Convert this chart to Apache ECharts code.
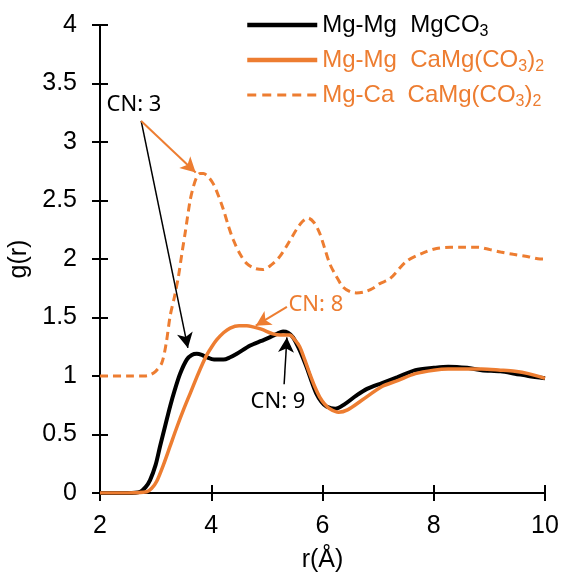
<!DOCTYPE html>
<html>
<head>
<meta charset="utf-8">
<script src="https://cdn.jsdelivr.net/npm/echarts@6/dist/echarts.min.js"></script>
<style>html,body{margin:0;padding:0;background:#fff}#c{width:564px;height:577px}</style>
</head>
<body>
<div id="c"></div>
<script>
// ---- data ----
const xTicks = [2, 4, 6, 8, 10];
const yTicks = [0, 0.5, 1, 1.5, 2, 2.5, 3, 3.5, 4];

const seriesNames = ['Mg-Mg  MgCO3', 'Mg-Mg  CaMg(CO3)2', 'Mg-Ca  CaMg(CO3)2'];

const rMgCO3 = [2, 2.5, 2.72, 2.82, 2.9, 3.0, 3.08, 3.17, 3.26, 3.35, 3.44, 3.56, 3.65, 3.74, 3.83, 3.92, 4.05, 4.22, 4.34, 4.46, 4.7, 4.9, 5.05, 5.18, 5.29, 5.38, 5.47, 5.59, 5.71, 5.8, 5.89, 5.98, 6.07, 6.23, 6.4, 6.6, 6.8, 7.07, 7.35, 7.67, 8.0, 8.26, 8.6, 8.86, 9.2, 9.46, 9.7, 10];
const gMgCO3 = [0, 0, 0.01, 0.05, 0.11, 0.24, 0.40, 0.57, 0.74, 0.89, 1.02, 1.14, 1.18, 1.19, 1.18, 1.16, 1.14, 1.14, 1.16, 1.19, 1.26, 1.30, 1.33, 1.36, 1.38, 1.37, 1.33, 1.22, 1.08, 0.96, 0.85, 0.78, 0.74, 0.72, 0.76, 0.83, 0.89, 0.94, 0.99, 1.05, 1.07, 1.08, 1.07, 1.05, 1.04, 1.02, 1.0, 0.98];

const rMgMgDol = [2, 2.5, 2.84, 2.93, 3.02, 3.14, 3.26, 3.38, 3.5, 3.62, 3.74, 3.83, 3.92, 4.01, 4.10, 4.22, 4.34, 4.5, 4.64, 4.75, 4.9, 5.11, 5.25, 5.41, 5.5, 5.59, 5.68, 5.77, 5.86, 5.95, 6.04, 6.13, 6.29, 6.45, 6.7, 7.07, 7.35, 7.67, 8.0, 8.26, 8.6, 8.86, 9.2, 9.46, 9.7, 10];
const gMgMgDol = [0, 0, 0.01, 0.04, 0.10, 0.24, 0.40, 0.56, 0.71, 0.85, 0.99, 1.09, 1.18, 1.25, 1.31, 1.37, 1.41, 1.43, 1.43, 1.42, 1.40, 1.36, 1.35, 1.35, 1.31, 1.25, 1.14, 1.02, 0.91, 0.82, 0.76, 0.72, 0.69, 0.71, 0.79, 0.91, 0.96, 1.02, 1.05, 1.06, 1.06, 1.06, 1.05, 1.04, 1.02, 0.98];

const rMgCaDol = [2, 2.5, 2.8, 2.9, 3.0, 3.11, 3.19, 3.26, 3.34, 3.41, 3.47, 3.53, 3.62, 3.68, 3.74, 3.8, 3.86, 3.95, 4.04, 4.13, 4.22, 4.31, 4.40, 4.52, 4.64, 4.78, 4.93, 5.08, 5.23, 5.38, 5.53, 5.64, 5.74, 5.85, 5.95, 6.04, 6.13, 6.25, 6.37, 6.5, 6.61, 6.76, 6.91, 7.03, 7.21, 7.51, 7.8, 8.05, 8.3, 8.53, 8.8, 9.01, 9.2, 9.43, 9.7, 9.91, 10];
const gMgCaDol = [1, 1, 1.0, 1.01, 1.04, 1.11, 1.28, 1.51, 1.68, 1.85, 2.04, 2.22, 2.50, 2.62, 2.70, 2.73, 2.73, 2.70, 2.64, 2.54, 2.42, 2.28, 2.16, 2.04, 1.96, 1.92, 1.91, 1.95, 2.02, 2.13, 2.25, 2.32, 2.35, 2.31, 2.22, 2.09, 1.96, 1.85, 1.76, 1.72, 1.71, 1.72, 1.75, 1.79, 1.83, 1.98, 2.05, 2.09, 2.10, 2.10, 2.10, 2.08, 2.06, 2.04, 2.02, 2.00, 2.00];

// annotations (data coordinates)
const cnLabels = ['CN: 3', 'CN: 8', 'CN: 9'];
const cnPos = [[2.61, 3.32], [5.88, 1.61], [5.20, 0.78]];
const arrowCN3toMgCa = [[2.74, 3.18], [3.72, 2.74]];
const arrowCN3toMgCO3 = [[2.74, 3.18], [3.58, 1.24]];
const arrowCN8 = [[5.36, 1.59], [4.80, 1.43]];
const arrowCN9 = [[5.31, 0.93], [5.36, 1.33]];

// ---- chart ----
const BLACK = '#000000';
const ORANGE = '#ED7D31';
const FONT = '"Liberation Sans", Arial, sans-serif';
const CNFONT = '"Noto Sans", "Open Sans", sans-serif';

function pairs(xs, ys) { return xs.map((x, i) => [x, ys[i]]); }
function arrowData(a) { return [[{ coord: a[0] }, { coord: a[1] }]]; }

const legendRich = (color) => ({
  m: { fontSize: 24, color: color, fontFamily: FONT, lineHeight: 28 },
  s: { fontSize: 16, color: color, fontFamily: FONT, lineHeight: 28, padding: [14, 0, 0, 0] }
});

const legendText = {
  'Mg-Mg  MgCO3': '{m|Mg-Mg  MgCO}{s|3}',
  'Mg-Mg  CaMg(CO3)2': '{m|Mg-Mg  CaMg(CO}{s|3}{m|)}{s|2}',
  'Mg-Ca  CaMg(CO3)2': '{m|Mg-Ca  CaMg(CO}{s|3}{m|)}{s|2}'
};

const axisCommon = {
  type: 'value',
  axisLine: { show: true, lineStyle: { color: BLACK, width: 2 } },
  splitLine: { show: false }
};

const chart = echarts.init(document.getElementById('c'), null, { renderer: 'canvas' });
chart.setOption({
  animation: false,
  backgroundColor: '#ffffff',
  grid: { left: 100, right: 19, top: 25, bottom: 84, containLabel: false, outerBoundsMode: 'none' },
  legend: {
    orient: 'vertical',
    left: 240,
    top: 5,
    itemWidth: 70,
    itemHeight: 14,
    itemGap: 5,
    selectedMode: false,
    itemStyle: { opacity: 0, color: 'rgba(0,0,0,0)', borderWidth: 0 },
    formatter: (n) => legendText[n],
    data: [
      { name: seriesNames[0], lineStyle: { width: 4.5, color: BLACK }, textStyle: { color: BLACK, rich: legendRich(BLACK) } },
      { name: seriesNames[1], lineStyle: { width: 4.5, color: ORANGE }, textStyle: { color: ORANGE, rich: legendRich(ORANGE) } },
      { name: seriesNames[2], lineStyle: { width: 3, color: ORANGE, type: [9, 6] }, textStyle: { color: ORANGE, rich: legendRich(ORANGE) } }
    ]
  },
  xAxis: [
    Object.assign({}, axisCommon, {
      min: xTicks[0], max: xTicks[xTicks.length - 1], interval: 2,
      position: 'bottom',
      name: 'r(Å)', nameLocation: 'middle', nameGap: 55,
      nameTextStyle: { color: BLACK, fontSize: 25, fontFamily: FONT },
      axisTick: { show: true, inside: false, length: 8, lineStyle: { color: BLACK, width: 2 } },
      axisLabel: { color: BLACK, fontSize: 25, fontFamily: FONT, margin: 21 }
    }),
    Object.assign({}, axisCommon, {
      min: xTicks[0], max: xTicks[xTicks.length - 1], interval: 2,
      position: 'bottom',
      axisTick: { show: true, inside: true, length: 8, lineStyle: { color: BLACK, width: 2 } },
      axisLabel: { show: false }
    })
  ],
  yAxis: [
    Object.assign({}, axisCommon, {
      min: yTicks[0], max: yTicks[yTicks.length - 1], interval: 0.5,
      position: 'left',
      name: 'g(r)', nameLocation: 'middle', nameGap: 67, nameRotate: 90,
      nameTextStyle: { color: BLACK, fontSize: 25, fontFamily: FONT },
      axisTick: { show: true, inside: false, length: 8, lineStyle: { color: BLACK, width: 2 } },
      axisLabel: { color: BLACK, fontSize: 25, fontFamily: FONT, margin: 23 }
    }),
    Object.assign({}, axisCommon, {
      min: yTicks[0], max: yTicks[yTicks.length - 1], interval: 0.5,
      position: 'left',
      axisTick: { show: true, inside: true, length: 8, lineStyle: { color: BLACK, width: 2 } },
      axisLabel: { show: false }
    })
  ],
  series: [
    {
      name: seriesNames[0], type: 'line', xAxisIndex: 0, yAxisIndex: 0,
      data: pairs(rMgCO3, gMgCO3), smooth: 0.3, showSymbol: false, symbol: 'none',
      lineStyle: { color: BLACK, width: 4 }, itemStyle: { color: BLACK }, z: 3,
      markLine: {
        silent: true, symbol: ['none', 'arrow'], symbolSize: [12, 15],
        label: { show: false },
        lineStyle: { color: BLACK, width: 1.5, type: 'solid' },
        data: [].concat(arrowData(arrowCN3toMgCO3), arrowData(arrowCN9))
      },
      markPoint: {
        silent: true, symbol: 'rect', symbolSize: 1, itemStyle: { color: 'rgba(0,0,0,0)' },
        label: { show: true, position: 'inside', color: BLACK, fontSize: 22, fontFamily: CNFONT, formatter: (p) => p.name },
        data: [
          { name: cnLabels[0], coord: cnPos[0] },
          { name: cnLabels[2], coord: cnPos[2] }
        ]
      }
    },
    {
      name: seriesNames[1], type: 'line', xAxisIndex: 0, yAxisIndex: 0,
      data: pairs(rMgMgDol, gMgMgDol), smooth: 0.3, showSymbol: false, symbol: 'none',
      lineStyle: { color: ORANGE, width: 3.5 }, itemStyle: { color: ORANGE }, z: 4,
      markLine: {
        silent: true, symbol: ['none', 'arrow'], symbolSize: [12, 15],
        label: { show: false },
        lineStyle: { color: ORANGE, width: 2, type: 'solid' },
        data: [].concat(arrowData(arrowCN3toMgCa), arrowData(arrowCN8))
      },
      markPoint: {
        silent: true, symbol: 'rect', symbolSize: 1, itemStyle: { color: 'rgba(0,0,0,0)' },
        label: { show: true, position: 'inside', color: ORANGE, fontSize: 22, fontFamily: CNFONT, formatter: (p) => p.name },
        data: [{ name: cnLabels[1], coord: cnPos[1] }]
      }
    },
    {
      name: seriesNames[2], type: 'line', xAxisIndex: 0, yAxisIndex: 0,
      data: pairs(rMgCaDol, gMgCaDol), smooth: 0.3, showSymbol: false, symbol: 'none',
      lineStyle: { color: ORANGE, width: 3, type: [8, 5] }, itemStyle: { color: ORANGE }, z: 2
    }
  ]
});
</script>
</body>
</html>
